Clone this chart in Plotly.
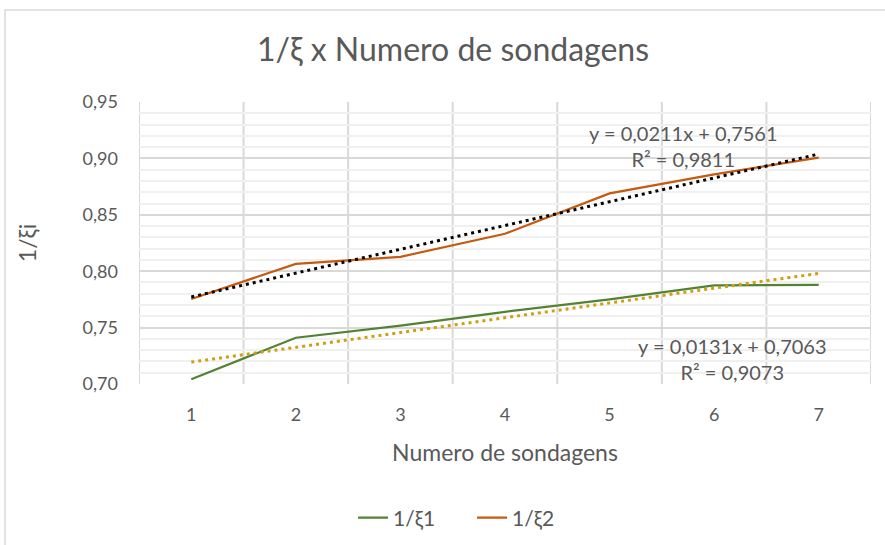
import numpy as np
import plotly.graph_objects as go

sondagens = [1, 2, 3, 4, 5, 6, 7]
inv_xi1 = [0.7042, 0.7410, 0.7518, 0.7640, 0.7750, 0.7874, 0.7878]
inv_xi2 = [0.7754, 0.8065, 0.8128, 0.8332, 0.8690, 0.8859, 0.9007]
y_ticks = [0.70, 0.75, 0.80, 0.85, 0.90, 0.95]
trend_labels_1 = ["y = 0,0131x + 0,7063", "R² = 0,9073"]
trend_labels_2 = ["y = 0,0211x + 0,7561", "R² = 0,9811"]

FONT = "Lato"
GRAY = "#595959"
GRID = "#D9D9D9"

x = np.array(sondagens, dtype=float)
m1, b1 = np.polyfit(x, np.array(inv_xi1), 1)
m2, b2 = np.polyfit(x, np.array(inv_xi2), 1)

fig = go.Figure()
fig.add_trace(go.Scatter(x=sondagens, y=inv_xi1, mode="lines", name="1/ξ1",
                         line=dict(color="#548235", width=2.25)))
fig.add_trace(go.Scatter(x=sondagens, y=inv_xi2, mode="lines", name="1/ξ2",
                         line=dict(color="#C55A11", width=2.25)))
fig.add_trace(go.Scatter(x=sondagens, y=list(m1 * x + b1), mode="lines", showlegend=False,
                         line=dict(color="#CCA010", width=3, dash="3px,4px"), hoverinfo="skip"))
fig.add_trace(go.Scatter(x=sondagens, y=list(m2 * x + b2), mode="lines", showlegend=False,
                         line=dict(color="#000000", width=3, dash="3px,4px"), hoverinfo="skip"))

fig.add_annotation(x=5.71, y=0.9111, xref="x", yref="y",
                   text="<br>".join(trend_labels_2),
                   showarrow=False, align="center", font=dict(family=FONT, size=20, color=GRAY))
fig.add_annotation(x=6.18, y=0.7221, xref="x", yref="y",
                   text="<br>".join(trend_labels_1),
                   showarrow=False, align="center", font=dict(family=FONT, size=20, color=GRAY))

# vertical category gridlines drawn above the horizontal minor grid
for k in range(len(sondagens) + 1):
    fig.add_shape(type="line", xref="x", yref="paper", x0=k + 0.5, x1=k + 0.5, y0=0, y1=1,
                  line=dict(color=GRID, width=2), layer="between")

# outer chart border
fig.add_shape(type="rect", xref="paper", yref="paper",
              x0=-0.183, x1=1.03, y0=-0.6, y1=1.326,
              line=dict(color=GRID, width=1.5), layer="below")

fig.update_layout(
    width=885, height=545,
    margin=dict(l=139, r=14, t=102, b=161, autoexpand=False),
    paper_bgcolor="white", plot_bgcolor="white",
    separators=",.",
    title=dict(text="1/ξ x Numero de sondagens", x=453 / 885, xanchor="center",
               y=1 - 50 / 545, yanchor="middle",
               font=dict(family=FONT, size=32, color=GRAY)),
    font=dict(family=FONT, size=18, color=GRAY),
    legend=dict(orientation="h", x=0.455, xanchor="center", y=-0.475, yanchor="middle",
                entrywidth=74, entrywidthmode="pixels",
                font=dict(family=FONT, size=21, color=GRAY)),
    showlegend=True,
)
fig.update_xaxes(range=[0.5, 7.5], tickvals=sondagens, ticktext=[str(v) for v in sondagens],
                 showgrid=False, zeroline=False, showline=False, ticks="", automargin=False,
                 ticklabelstandoff=18,
                 title=dict(text="Numero de sondagens", standoff=20,
                            font=dict(family=FONT, size=23, color=GRAY)),
                 tickfont=dict(family=FONT, size=18, color=GRAY))
fig.update_yaxes(range=[0.70, 0.95], tickvals=y_ticks, tickformat=".2f",
                 showgrid=True, gridcolor=GRID, gridwidth=2, zeroline=False,
                 showline=False, ticks="", automargin=False, ticklabelstandoff=20,
                 minor=dict(dtick=0.01, showgrid=True, gridcolor="#F0F0F0", gridwidth=2),
                 title=dict(text="1/ξi", standoff=39, font=dict(family=FONT, size=23, color=GRAY)),
                 tickfont=dict(family=FONT, size=18, color=GRAY))

fig.write_html("out.html", config={"displayModeBar": False},
               post_script="document.body.style.margin='0px';")
